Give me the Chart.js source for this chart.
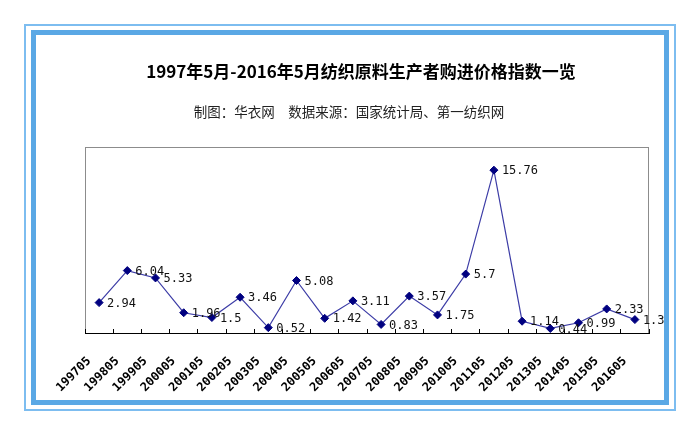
<!DOCTYPE html>
<html>
<head>
<meta charset="utf-8">
<script src="https://cdn.jsdelivr.net/npm/chart.js@4"></script>
<style>
html,body{margin:0;padding:0;background:#fff;}
#wrap{position:relative;width:700px;height:436px;overflow:hidden;}
#outer{position:absolute;left:24px;top:24px;width:652px;height:387px;border:2px solid #7dbdf0;box-sizing:border-box;}
#inner{position:absolute;left:31px;top:30px;width:638px;height:375px;border:5px solid #5aa8e5;box-sizing:border-box;}
canvas{position:absolute;left:0;top:0;}
</style>
</head>
<body>
<div id="wrap">
  <div id="outer"></div>
  <div id="inner"></div>
  <canvas id="c" width="700" height="436"></canvas>
</div>
<script>
const titleText = '1997年5月-2016年5月纺织原料生产者购进价格指数一览';
const subtitleText = '制图：华衣网\u3000数据来源：国家统计局、第一纺织网';
const categories = ['199705','199805','199905','200005','200105','200205','200305','200405','200505','200605',
                    '200705','200805','200905','201005','201105','201205','201305','201405','201505','201605'];
const values = [2.94, 6.04, 5.33, 1.96, 1.5, 3.46, 0.52, 5.08, 1.42, 3.11,
                0.83, 3.57, 1.75, 5.7, 15.76, 1.14, 0.44, 0.99, 2.33, 1.3];
const yMin = 0, yMax = 18;

const plotBorder = {
  id: 'plotBorder',
  beforeDraw(chart) {
    const {ctx, chartArea: a} = chart;
    ctx.save();
    ctx.strokeStyle = '#8c8c8c';
    ctx.lineWidth = 1;
    ctx.strokeRect(a.left + 0.5, a.top + 0.5, a.right - a.left - 1, a.bottom - a.top);
    ctx.restore();
  }
};

const pointLabels = {
  id: 'pointLabels',
  afterDatasetsDraw(chart) {
    const ctx = chart.ctx;
    const meta = chart.getDatasetMeta(0);
    ctx.save();
    ctx.font = '12px "DejaVu Sans Mono"';
    ctx.fillStyle = '#111';
    ctx.textAlign = 'left';
    ctx.textBaseline = 'middle';
    meta.data.forEach((pt, i) => {
      ctx.fillText(String(values[i]), pt.x + 8, pt.y + 1);
    });
    ctx.restore();
  }
};

const headers = {
  id: 'headers',
  afterDraw(chart) {
    const ctx = chart.ctx;
    ctx.save();
    ctx.fillStyle = '#000';
    ctx.textAlign = 'center';
    ctx.textBaseline = 'middle';
    ctx.font = 'bold 17px "Noto Sans CJK SC"';
    ctx.fillText(titleText, 361, 72);
    ctx.font = '13.5px "Noto Sans CJK SC"';
    ctx.fillStyle = '#222';
    ctx.fillText(subtitleText, 349, 112);
    ctx.restore();
  }
};

new Chart(document.getElementById('c'), {
  type: 'line',
  data: {
    labels: categories,
    datasets: [{
      data: values,
      borderColor: '#3c3ca6',
      borderWidth: 1.2,
      tension: 0,
      fill: false,
      pointStyle: 'rectRot',
      pointRadius: 4,
      pointBackgroundColor: '#000080',
      pointBorderColor: '#000080',
      pointBorderWidth: 1
    }]
  },
  options: {
    responsive: false,
    animation: false,
    layout: {padding: {left: 85, right: 51, top: 147, bottom: 0}},
    scales: {
      x: {
        offset: true,
        grid: {display: true, drawOnChartArea: false, drawTicks: true, tickLength: -4, color: '#000', offset: true},
        border: {display: true, color: '#000', width: 1},
        ticks: {autoSkip: false, maxRotation: 45, minRotation: 45, padding: 25, labelOffset: -10,
                color: '#000', font: {family: 'DejaVu Sans Mono', size: 12, weight: 'bold'}},
        afterFit(s) { s.height = 103; }
      },
      y: {display: false, min: yMin, max: yMax}
    },
    plugins: {legend: {display: false}, title: {display: false}, tooltip: {enabled: false}}
  },
  plugins: [plotBorder, pointLabels, headers]
});
</script>
</body>
</html>
